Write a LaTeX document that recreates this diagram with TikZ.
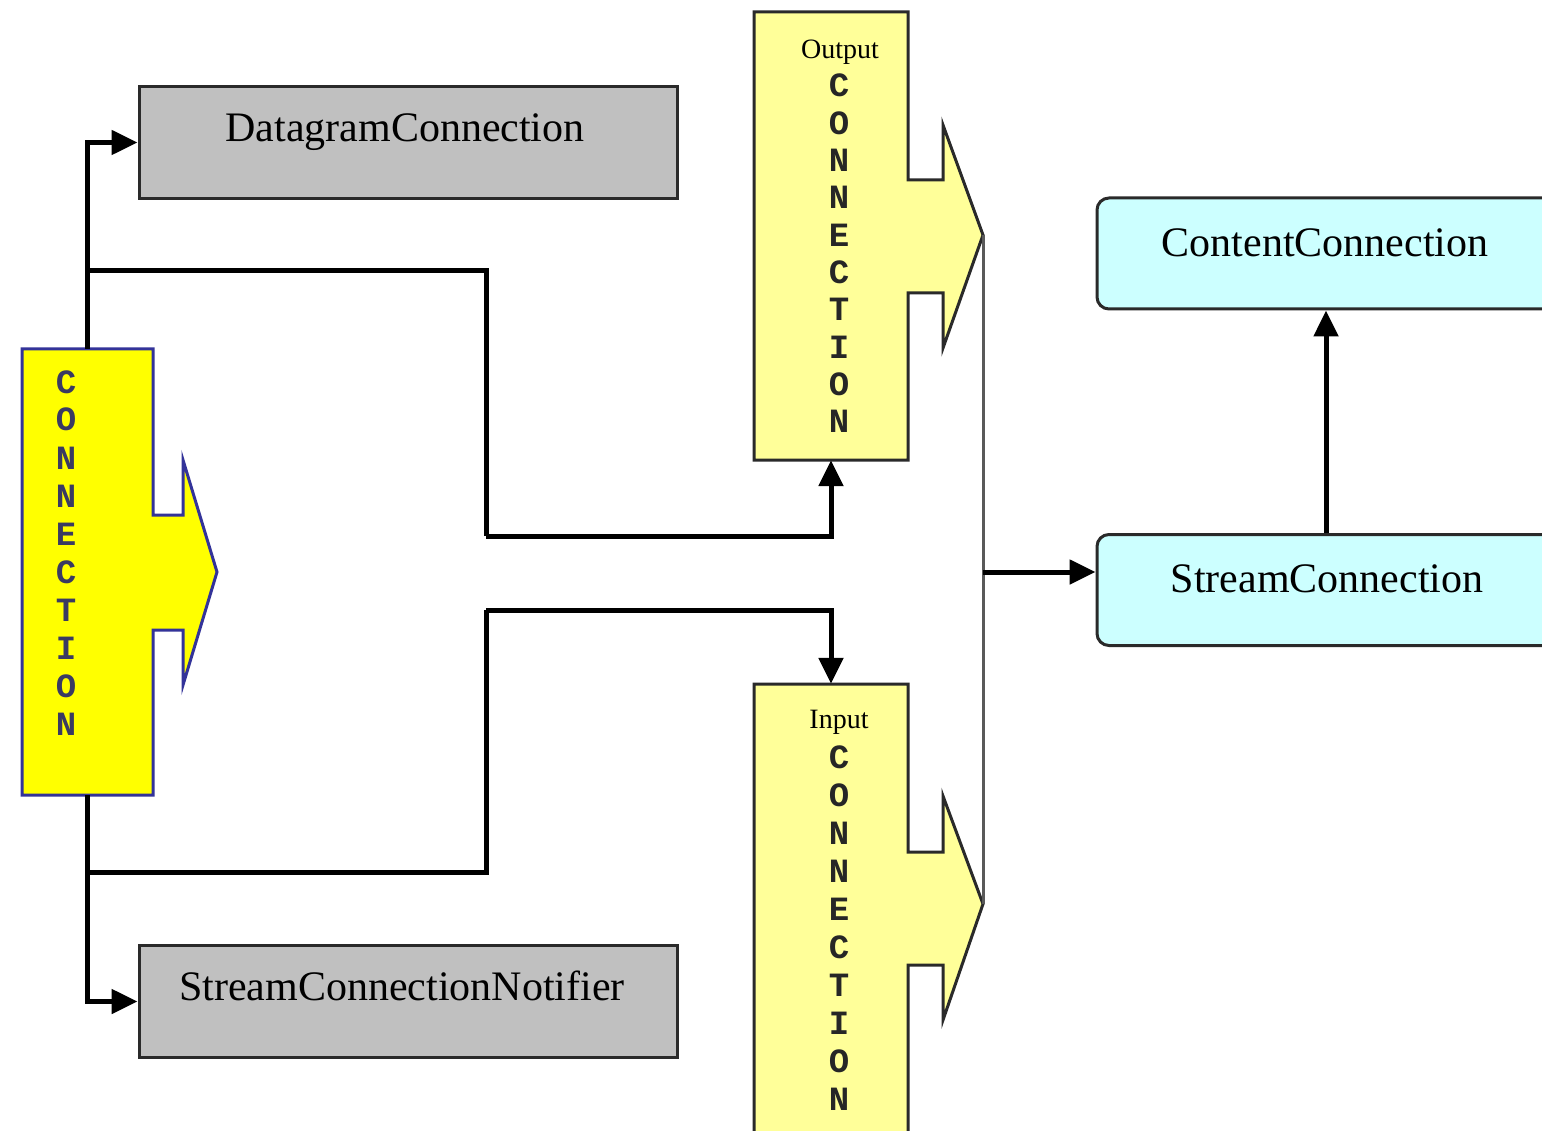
\documentclass[tikz,border=0pt]{standalone}
\usepackage{fontspec}
\setmainfont{Liberation Serif}
\newfontfamily\vmono{Liberation Mono}
\usetikzlibrary{arrows.meta}
\definecolor{ybright}{HTML}{FFFF00}
\definecolor{ypale}{HTML}{FFFF99}
\definecolor{greybox}{HTML}{C0C0C0}
\definecolor{cyanbox}{HTML}{CCFFFF}
\definecolor{navy}{HTML}{333399}
\definecolor{navytext}{HTML}{3A3A62}
\definecolor{edge}{HTML}{2A2A2A}
\tikzset{
  conn/.style={line width=5pt, draw=black, -{Triangle[length=26pt,width=24pt]}},
  plainline/.style={line width=5pt, draw=black},
  greyline/.style={line width=3pt, draw=black!65},
  anchorbox/.style={draw=none, inner sep=0pt, minimum width=#1},
  greyrect/.style={draw=edge, line width=3pt, fill=greybox, inner sep=0pt,
     minimum width=538pt, minimum height=112pt},
  cyanrect/.style={draw=edge, line width=3pt, fill=cyanbox, inner sep=0pt,
     rounded corners=12pt, minimum width=458pt, minimum height=111pt},
  boxlabel/.style={font=\fontsize{42}{50}\selectfont, anchor=base, inner sep=0pt},
  bigletter/.style={font=\vmono\bfseries\fontsize{34}{38}\selectfont, anchor=base, inner sep=0pt, text=navytext},
  smallletter/.style={font=\vmono\bfseries\fontsize{34}{38}\selectfont, anchor=base, inner sep=0pt, text=black!85},
  wordlabel/.style={font=\fontsize{28}{32}\selectfont, anchor=base, inner sep=0pt},
}
\begin{document}
\begin{tikzpicture}[x=1pt,y=-1pt]
\useasboundingbox (0,0) rectangle (1542,1131);
\clip (0,0) rectangle (1542,1131);
\fill[white] (0,0) rectangle (1542,1131);

% ---- big CONNECTION arrow box
\draw[navy, line width=3pt, fill=ybright, line join=miter]
  (22,349) -- (153,349) -- (153,515) -- (183,515) -- (183,460) -- (217,572)
  -- (183,685) -- (183,630) -- (153,630) -- (153,795) -- (22,795) -- cycle;
\node[anchorbox=131pt, minimum height=446pt] (conn) at (87.5,572) {};
\foreach \l [count=\i] in {C,O,N,N,E,C,T,I,O,N}
  \node[bigletter] (cl\i) at (66,{393+38*(\i-1)}) {\l};

% ---- Output CONNECTION
\draw[edge, line width=3pt, fill=ypale]
  (754,12) -- (908,12) -- (908,180) -- (943,180) -- (943,125) -- (983,235)
  -- (943,348) -- (943,293) -- (908,293) -- (908,460) -- (754,460) -- cycle;
\node[anchorbox=154pt, minimum height=448pt] (out) at (831,236) {};
\coordinate (otip) at (983,235);
\node[wordlabel] (outw) at (840,59) {Output};
\foreach \l [count=\i] in {C,O,N,N,E,C,T,I,O,N}
  \node[smallletter] (ol\i) at (839,{97+37.3*(\i-1)}) {\l};

% ---- Input CONNECTION
\draw[edge, line width=3pt, fill=ypale]
  (754,1150) -- (754,684) -- (908,684) -- (908,852) -- (943,852) -- (943,796) -- (983,904)
  -- (943,1020) -- (943,965) -- (908,965) -- (908,1150);
\node[anchorbox=154pt, minimum height=466pt] (inp) at (831,917) {};
\coordinate (itip) at (983,904);
\node[wordlabel] (inw) at (839,728) {Input};
\foreach \l [count=\i] in {C,O,N,N,E,C,T,I,O,N}
  \node[smallletter] (il\i) at (839,{768+38*(\i-1)}) {\l};

% ---- grey boxes
\node[greyrect] (dg) at (408,142.5) {};
\node[boxlabel] (dgt) at (405,142) {DatagramConnection};
\node[greyrect] (scn) at (408,1001.5) {};
\node[boxlabel] (scnt) at (402,1000) {StreamConnectionNotifier};

% ---- cyan boxes
\node[cyanrect] (cc) at (1326,253.5) {};
\node[boxlabel] (cct) at (1325,257) {ContentConnection};
\node[cyanrect] (sc) at (1326,590) {};
\node[boxlabel] (sct) at (1327,592) {StreamConnection};

% ---- connectors
\coordinate (j1) at (88,271);
\coordinate (b1) at (486,536);
\coordinate (j2) at (88,872);
\coordinate (b2) at (486,610);
\coordinate (mid) at (983,572);

\draw[conn] (conn.north) |- (dg.west);
\draw[conn] (conn.south) |- (scn.west);
\draw[plainline] (j1) -| (b1);
\draw[conn] (b1) -| (out.south);
\draw[plainline] (j2) -| (b2);
\draw[conn] (b2) -| (inp.north);
\draw[greyline] (otip) -- (itip);
\draw[conn] (mid) -- (sc.west |- mid);
\draw[conn] (sc.north) -- (cc.south);
\end{tikzpicture}
\end{document}
